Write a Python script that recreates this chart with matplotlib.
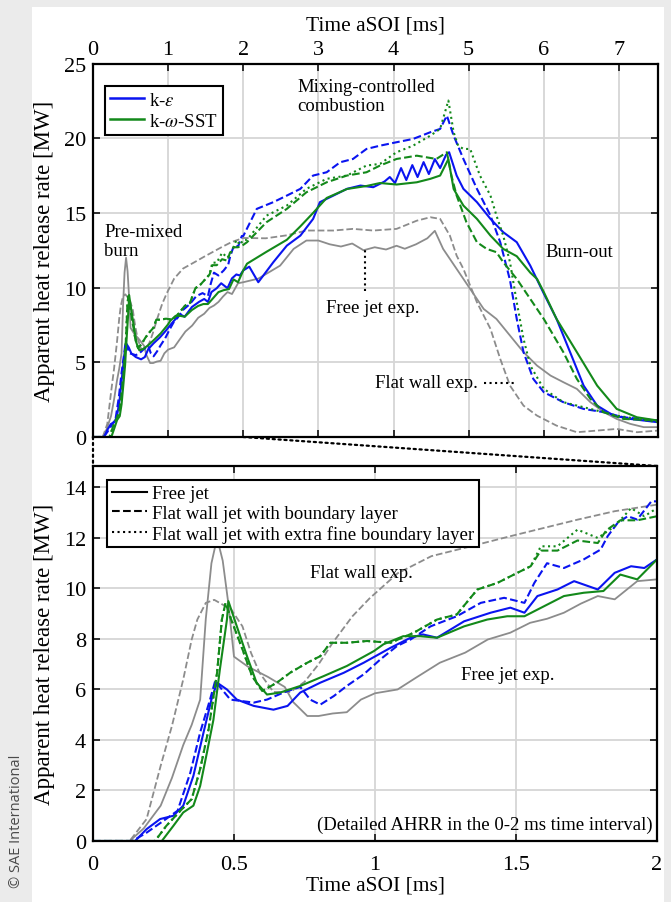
import matplotlib
matplotlib.use('Agg')
import matplotlib.pyplot as plt
from matplotlib.lines import Line2D
from matplotlib.patches import Rectangle, ConnectionPatch

plt.rcParams['font.family'] = ['Liberation Serif', 'DejaVu Serif']
plt.rcParams['mathtext.fontset'] = 'stix'

# Experiments (gray)
exp_free_t = [0, 0.13, 0.18, 0.24, 0.28, 0.32, 0.35, 0.38, 0.40, 0.42, 0.44, 0.46, 0.48, 0.50,
              0.55, 0.62, 0.68, 0.71, 0.76, 0.80, 0.85, 0.90, 0.95, 1.0, 1.08, 1.15, 1.23, 1.32,
              1.40, 1.48, 1.55, 1.61, 1.67, 1.73, 1.79, 1.85, 1.93, 2.0, 2.2, 2.49, 2.67, 2.84,
              3.0, 3.15, 3.3, 3.45, 3.6, 3.75, 3.9, 4.04, 4.15, 4.3, 4.45, 4.55, 4.66, 4.84, 5.02,
              5.2, 5.37, 5.55, 5.73, 5.91, 6.09, 6.26, 6.44, 6.62, 6.8, 6.97, 7.15, 7.33, 7.52]
exp_free_v = [0, 0, 0.5, 1.4, 2.5, 3.8, 4.6, 5.6, 8.8, 11.0, 12.0, 11.1, 9.4, 7.3,
              6.9, 6.5, 6.1, 5.5, 4.95, 4.95, 5.05, 5.1, 5.6, 5.85, 6.0, 6.5, 7.06, 7.46,
              7.98, 8.25, 8.64, 8.8, 9.04, 9.4, 9.7, 9.57, 10.29, 10.36, 10.6, 11.47, 12.59, 13.15,
              13.15, 12.9, 12.75, 12.95, 12.5, 12.7, 12.55, 12.8, 12.6, 12.9, 13.3, 13.8, 12.59, 11.25, 9.91,
              8.57, 7.9, 6.79, 5.68, 4.78, 4.11, 3.67, 3.22, 2.33, 1.66, 1.21, 0.88, 0.66, 0.66]

exp_wall_t = [0, 0.13, 0.19, 0.24, 0.28, 0.32, 0.35, 0.37, 0.40, 0.43, 0.49, 0.53, 0.56, 0.59,
              0.64, 0.70, 0.75, 0.80, 0.85, 0.92, 0.98, 1.08, 1.2, 1.34, 1.48, 1.6, 1.72, 1.85,
              2.0, 2.3, 2.58, 2.84, 3.2, 3.46, 3.73, 4.04, 4.31, 4.49, 4.62, 4.75, 4.84, 4.93,
              5.11, 5.29, 5.42, 5.55, 5.73, 5.91, 6.17, 6.44, 6.71, 6.97, 7.24, 7.52]
exp_wall_v = [0, 0, 0.87, 2.98, 4.56, 6.4, 7.98, 8.77, 9.43, 9.55, 9.17, 8.5, 7.46, 6.67,
              5.9, 5.9, 6.3, 7.0, 7.85, 8.9, 9.6, 10.6, 11.28, 11.67, 12.07, 12.4, 12.73, 13.06,
              13.32, 13.3, 13.5, 13.82, 13.82, 13.93, 13.82, 13.93, 14.48, 14.71, 14.6, 13.48, 12.14, 11.25,
              9.02, 7.24, 5.23, 3.44, 2.1, 1.43, 0.76, 0.32, 0.43, 0.54, 0.32, 0.43]

# k-epsilon (blue)
ke_free_t = [0, 0.149, 0.19, 0.238, 0.285, 0.32, 0.356, 0.392, 0.42, 0.44, 0.475, 0.51, 0.57,
             0.64, 0.69, 0.735, 0.806, 0.889, 0.96, 1.055, 1.126, 1.17, 1.22, 1.316, 1.41, 1.48,
             1.53, 1.576, 1.647, 1.706, 1.79, 1.85, 1.908, 1.955, 2.0, 2.08, 2.2, 2.4, 2.58, 2.76,
             2.93, 3.02, 3.2, 3.38, 3.56, 3.73, 3.88, 3.95, 4.02, 4.1, 4.17, 4.25, 4.32, 4.4, 4.47,
             4.55, 4.62, 4.7, 4.74, 4.84, 4.93, 5.11, 5.29, 5.46, 5.64, 5.82, 6.0, 6.17, 6.35,
             6.53, 6.71, 6.93, 7.15, 7.52]
ke_free_v = [0, 0, 0.47, 0.87, 1.0, 1.4, 2.58, 4.3, 5.6, 6.27, 6.0, 5.6, 5.35,
             5.2, 5.35, 5.88, 6.27, 6.66, 7.06, 7.65, 8.05, 8.18, 8.05, 8.7, 9.04, 9.24,
             9.04, 9.7, 9.96, 10.29, 9.96, 10.62, 10.88, 10.81, 11.15, 11.4, 10.36, 11.7, 12.81, 13.48,
             14.6, 15.72, 16.16, 16.61, 16.83, 16.72, 17.1, 17.4, 17.0, 18.0, 17.2, 18.2, 17.4, 18.4, 17.6,
             18.6, 18.0, 18.9, 19.06, 17.5, 16.61, 15.72, 14.6, 13.71, 13.04, 11.47, 9.6, 7.9, 5.68,
             3.44, 2.1, 1.43, 1.21, 0.99]

ke_wall_t = [0, 0.14, 0.19, 0.25, 0.3, 0.345, 0.38, 0.415, 0.433, 0.487, 0.57, 0.617, 0.68,
             0.735, 0.77, 0.806, 0.854, 0.90, 0.96, 1.02, 1.078, 1.126, 1.197, 1.29, 1.375, 1.458,
             1.53, 1.565, 1.61, 1.67, 1.74, 1.80, 1.825, 1.86, 1.896, 1.93, 1.98, 2.0, 2.18, 2.4,
             2.58, 2.76, 2.93, 3.11, 3.29, 3.46, 3.64, 3.82, 4.04, 4.26, 4.49, 4.62, 4.71, 4.8,
             4.93, 5.11, 5.29, 5.42, 5.55, 5.64, 5.73, 5.86, 6.0, 6.26, 6.53, 6.8, 7.06, 7.52]
ke_wall_v = [0, 0, 0.33, 0.8, 1.2, 2.7, 4.3, 5.6, 6.33, 5.6, 5.48, 5.6, 5.9,
             6.1, 5.6, 5.4, 5.74, 6.14, 6.6, 7.2, 7.72, 7.98, 8.5, 8.9, 9.43, 9.63,
             9.43, 10.22, 11.0, 10.81, 11.15, 11.54, 12.07, 12.59, 12.86, 12.73, 13.45, 13.45, 15.27, 15.72,
             16.16, 16.61, 17.5, 17.72, 18.39, 18.61, 19.28, 19.5, 19.73, 19.95, 20.4, 20.62, 21.51, 20.17,
             18.61, 16.61, 14.82, 13.04, 10.5, 7.9, 5.68, 3.89, 3.0, 2.33, 1.88, 1.66, 1.32, 1.1]

# k-omega-SST (green)
kw_free_t = [0, 0.244, 0.285, 0.32, 0.356, 0.38, 0.404, 0.427, 0.45, 0.475, 0.48, 0.51, 0.546,
             0.58, 0.617, 0.664, 0.735, 0.818, 0.90, 0.996, 1.03, 1.1, 1.16, 1.22, 1.316, 1.398,
             1.469, 1.53, 1.6, 1.67, 1.74, 1.81, 1.87, 1.93, 2.0, 2.05, 2.31, 2.58, 2.76, 2.93,
             3.11, 3.38, 3.64, 3.82, 4.04, 4.31, 4.49, 4.62, 4.73, 4.8, 4.93, 5.11, 5.29, 5.46,
             5.64, 5.82, 5.91, 6.0, 6.17, 6.44, 6.71, 6.97, 7.24, 7.52]
kw_free_v = [0, 0, 0.6, 1.13, 1.4, 2.18, 3.5, 4.8, 6.8, 8.77, 9.5, 8.5, 7.32,
             6.27, 5.8, 5.88, 6.14, 6.53, 6.93, 7.52, 7.79, 8.11, 8.11, 8.05, 8.5, 8.77,
             8.9, 8.9, 9.3, 9.7, 9.83, 9.9, 10.55, 10.36, 11.15, 11.6, 12.4, 13.2, 14.1, 15.0,
             16.0, 16.6, 16.8, 17.0, 16.9, 17.05, 17.28, 17.5, 18.6, 16.6, 15.49, 14.6, 13.48, 12.59,
             12.1, 11.0, 10.58, 9.7, 7.9, 5.68, 3.44, 1.88, 1.32, 1.1]

kw_wall_t = [0, 0.22, 0.26, 0.31, 0.35, 0.38, 0.41, 0.44, 0.457, 0.47, 0.49, 0.53, 0.564,
             0.6, 0.652, 0.70, 0.76, 0.806, 0.842, 0.90, 0.972, 1.055, 1.138, 1.22, 1.29, 1.363,
             1.434, 1.505, 1.552, 1.588, 1.647, 1.718, 1.79, 1.82, 1.87, 1.93, 2.0, 2.05, 2.31,
             2.58, 2.84, 3.11, 3.38, 3.64, 3.82, 4.04, 4.31, 4.57, 4.71, 4.77, 4.84, 4.97, 5.11,
             5.24, 5.37, 5.46, 5.64, 5.82, 6.0, 6.26, 6.44, 6.62, 6.8, 7.06, 7.52]
kw_wall_v = [0, 0, 0.6, 1.2, 1.66, 2.85, 4.43, 6.67, 8.77, 9.43, 8.77, 7.59, 6.53,
             5.94, 6.27, 6.67, 7.06, 7.32, 7.85, 7.85, 7.92, 7.85, 8.25, 8.77, 8.97, 9.96,
             10.22, 10.62, 10.88, 11.5, 11.5, 11.9, 11.8, 12.3, 12.7, 12.7, 12.86, 13.04, 14.38,
             15.27, 16.38, 17.05, 17.5, 17.72, 18.17, 18.61, 18.83, 18.61, 19.06, 17.5, 16.16, 14.38, 13.04,
             12.59, 12.37, 11.7, 10.58, 9.24, 7.9, 5.68, 3.89, 2.55, 1.66, 1.21, 1.1]

kw_fine_t = [0, 0.22, 0.26, 0.31, 0.35, 0.38, 0.41, 0.44, 0.457, 0.47, 0.49, 0.53, 0.564,
             0.6, 0.652, 0.70, 0.76, 0.806, 0.842, 0.90, 0.972, 1.055, 1.138, 1.22, 1.29, 1.363,
             1.434, 1.505, 1.552, 1.588, 1.647, 1.718, 1.79, 1.85, 1.908, 1.955, 2.0, 2.05, 2.31,
             2.58, 2.84, 3.11, 3.38, 3.64, 3.82, 4.04, 4.26, 4.49, 4.62, 4.73, 4.8, 4.86, 4.93,
             5.02, 5.15, 5.29, 5.37, 5.46, 5.55, 5.64, 5.73, 5.82, 6.0, 6.26, 6.62, 6.97, 7.52]
kw_fine_v = [0, 0, 0.6, 1.2, 1.66, 2.85, 4.43, 6.67, 8.77, 9.43, 8.77, 7.59, 6.53,
             5.94, 6.27, 6.67, 7.06, 7.32, 7.85, 7.85, 7.92, 7.85, 8.25, 8.77, 8.97, 9.96,
             10.22, 10.62, 10.88, 11.67, 11.67, 12.33, 12.0, 12.46, 13.18, 12.86, 13.18, 13.2, 14.82,
             15.49, 16.61, 17.28, 17.5, 18.17, 18.28, 19.06, 19.5, 20.17, 20.62, 22.52, 20.4, 19.5, 19.28,
             19.28, 17.5, 16.16, 14.82, 13.48, 11.7, 9.02, 6.57, 4.78, 3.22, 2.33, 1.88, 1.43, 0.99]

top_xticks = [0, 1, 2, 3, 4, 5, 6, 7]
top_yticks = [0, 5, 10, 15, 20, 25]
bot_xticks = [0, 0.5, 1, 1.5, 2]
bot_xlabels = ['0', '0.5', '1', '1.5', '2']
bot_yticks = [0, 2, 4, 6, 8, 10, 12, 14]

BLUE = '#0a14f0'
GREEN = '#13891a'
GRAY = '#8c8c8c'

series = [
    (exp_free_t, exp_free_v, GRAY, '-'),
    (exp_wall_t, exp_wall_v, GRAY, '--'),
    (ke_free_t, ke_free_v, BLUE, '-'),
    (ke_wall_t, ke_wall_v, BLUE, '--'),
    (kw_free_t, kw_free_v, GREEN, '-'),
    (kw_wall_t, kw_wall_v, GREEN, '--'),
    (kw_fine_t, kw_fine_v, GREEN, ':'),
]

TICK_FS = 16
LABEL_FS = 15.5
NOTE_FS = 13.5

fig = plt.figure(figsize=(6.71, 9.03), dpi=100, facecolor='#ebebeb')
# white page on the gray background
fig.patches.append(Rectangle((32 / 671, 0), (664 - 32) / 671, 1 - 8 / 903,
                             transform=fig.transFigure, facecolor='white',
                             edgecolor='none', zorder=-10))
fig.text(0.024, 0.09, '\u00a9 SAE International', rotation=90, ha='center', va='center',
         fontsize=10.5, color='#4a4a4a', family=['Open Sans', 'DejaVu Sans'])

ax1 = fig.add_axes([93 / 671, 1 - 438 / 903, 565 / 671, 373.5 / 903])
ax2 = fig.add_axes([93 / 671, 1 - 842 / 903, 564 / 671, 375 / 903])


def style_axes(ax):
    ax.grid(True, color='#d6d6d6', linewidth=1.3)
    ax.set_axisbelow(True)
    for sp in ax.spines.values():
        sp.set_linewidth(1.6)
    ax.tick_params(direction='in', length=5, width=1.1, top=True, right=True,
                   labelsize=TICK_FS, pad=5)
    ax.set_ylabel('Apparent heat release rate [MW]', fontsize=16.5, labelpad=6)


for ax in (ax1, ax2):
    for t, v, c, ls in series:
        lw = 1.3 if c == GRAY else 1.5
        ax.plot(t, v, color=c, linestyle=ls, linewidth=lw)
    style_axes(ax)

# Top panel: full time range
ax1.set_xlim(0, 7.52)
ax1.set_ylim(0, 25)
ax1.set_xticks(top_xticks)
ax1.set_yticks(top_yticks)
ax1.tick_params(axis='x', labeltop=True, labelbottom=False, pad=3)
ax1.xaxis.set_label_position('top')
ax1.set_xlabel('Time aSOI [ms]', fontsize=LABEL_FS, labelpad=8)

ax1.text(2.72, 24.0, 'Mixing-controlled\ncombustion', fontsize=NOTE_FS, va='top', ha='left',
         linespacing=1.1)
ax1.text(0.15, 14.3, 'Pre-mixed\nburn', fontsize=NOTE_FS, va='top', ha='left', linespacing=1.1)
ax1.text(3.72, 8.7, 'Free jet exp.', fontsize=NOTE_FS, va='center', ha='center')
ax1.plot([3.62, 3.62], [9.8, 12.5], color='k', linestyle=':', linewidth=1.5)
ax1.text(6.02, 12.4, 'Burn-out', fontsize=NOTE_FS, va='center', ha='left')
ax1.text(3.75, 3.65, 'Flat wall exp.', fontsize=NOTE_FS, va='center', ha='left')
ax1.plot([5.2, 5.6], [3.6, 3.6], color='k', linestyle=':', linewidth=1.5)

leg1 = ax1.legend(handles=[Line2D([], [], color=BLUE, lw=1.8),
                           Line2D([], [], color=GREEN, lw=1.8)],
                  labels=['k-$\\epsilon$', 'k-$\\omega$-SST'],
                  loc='upper left', bbox_to_anchor=(0.021, 0.94), borderaxespad=0,
                  fontsize=NOTE_FS, fancybox=False, framealpha=1, edgecolor='k',
                  handlelength=1.8, handletextpad=0.25, borderpad=0.3, labelspacing=0.2)
leg1.get_frame().set_linewidth(1.5)

# Bottom panel: detail of the first 2 ms
ax2.set_xlim(0, 2)
ax2.set_ylim(0, 14.85)
ax2.set_xticks(bot_xticks)
ax2.set_xticklabels(bot_xlabels)
ax2.set_yticks(bot_yticks)
ax2.tick_params(axis='x', pad=10)
ax2.set_xlabel('Time aSOI [ms]', fontsize=LABEL_FS, labelpad=1)

ax2.text(0.77, 10.63, 'Flat wall exp.', fontsize=NOTE_FS, va='center', ha='left')
ax2.text(1.305, 6.6, 'Free jet exp.', fontsize=NOTE_FS, va='center', ha='left')
ax2.text(1.985, 0.65, '(Detailed AHRR in the 0-2 ms time interval)', fontsize=NOTE_FS,
         va='center', ha='right')

leg2 = ax2.legend(handles=[Line2D([], [], color='k', lw=1.5, ls='-'),
                           Line2D([], [], color='k', lw=1.5, ls='--'),
                           Line2D([], [], color='k', lw=1.5, ls=':')],
                  labels=['Free jet', 'Flat wall jet with boundary layer',
                          'Flat wall jet with extra fine boundary layer'],
                  loc='upper left', bbox_to_anchor=(0.025, 0.962), borderaxespad=0,
                  fontsize=NOTE_FS, fancybox=False, framealpha=1, edgecolor='k',
                  handlelength=1.9, handletextpad=0.25, borderpad=0.25, labelspacing=0.15)
leg2.get_frame().set_linewidth(1.5)
leg2.set_zorder(5)

# dotted zoom connectors between the two panels
for x0 in (0, 2):
    con = ConnectionPatch(xyA=(x0, 0), coordsA=ax1.transData,
                          xyB=(x0, 14.85), coordsB=ax2.transData,
                          color='k', linestyle=':', linewidth=1.6)
    fig.add_artist(con)

fig.savefig('out.png', dpi=100, facecolor=fig.get_facecolor())
